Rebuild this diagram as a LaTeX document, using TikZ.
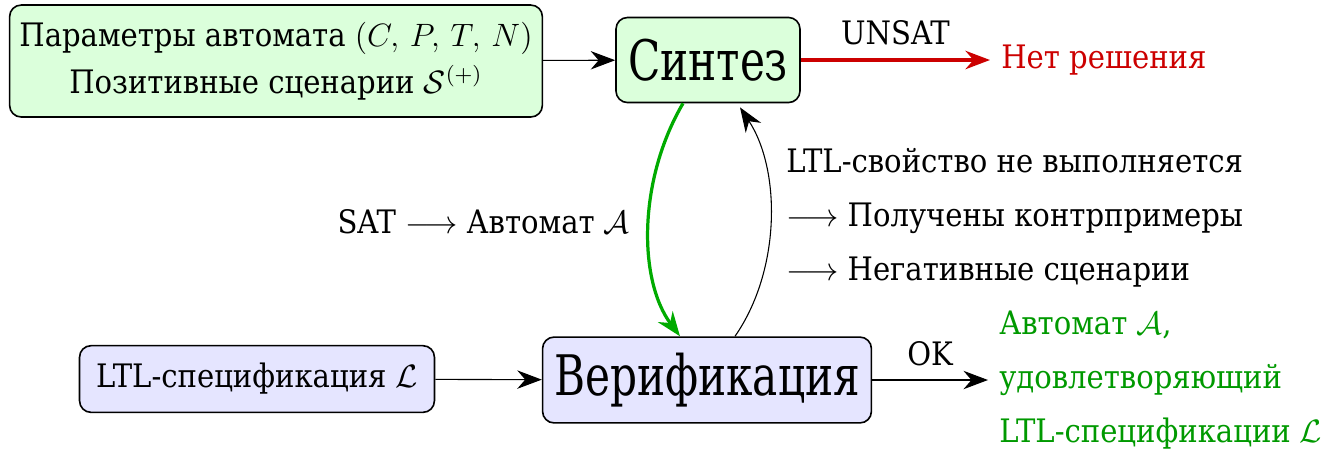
\documentclass[tikz,border=0pt,12pt]{standalone}
\usepackage{fontspec}
\setmainfont{DejaVu Serif Condensed}
\newfontfamily\stagefont[FakeStretch=0.84]{DejaVu Serif Condensed}
\usepackage{amsmath}
\usepackage{tikz}
\usetikzlibrary{arrows.meta,calc,positioning}

\tikzset{
  stagebox/.style={draw, semithick, rounded corners=0.15cm, inner sep=0pt, align=center},
  synthfill/.style={fill=green!14},
  verifill/.style={fill=blue!10},
  flow/.style={-{Stealth[length=3.2mm,width=2.4mm]}, thin},
}

\begin{document}
\begin{tikzpicture}[x=0.013047cm, y=-0.013047cm]
 \useasboundingbox (0,0) rectangle (1336,452);

    % input boxes
    \node (params) [stagebox, synthfill, minimum width=6.95cm, minimum height=1.46cm] at (276,61)
      {Параметры автомата $(C,\,P,\,T,\,N)$\\[3pt] Позитивные сценарии $\mathcal{S}^{(+)}$};
    \node (spec) [stagebox, verifill, minimum width=4.63cm, minimum height=0.87cm] at (257,379)
      {LTL-спецификация $\mathcal{L}$};

    % main stages
    \node (synth) [stagebox, synthfill, minimum width=2.40cm, minimum height=1.11cm] at (708,60) {\LARGE\stagefont Синтез};
    \node (verif) [stagebox, verifill, minimum width=4.29cm, minimum height=1.12cm] at (707,380) {\LARGE\stagefont Верификация};

    % results
    \node (nosol) [anchor=west, text=red!80!black] at (990,60) {Нет решения};
    \node (done) [anchor=west, align=left, text=green!60!black] at (988,380)
      {Автомат $\mathcal{A}$,\\[5.5pt] удовлетворяющий\\[5.5pt] LTL-спецификации $\mathcal{L}$};

    % straight arrows
    \draw[flow] (params) -- (synth);
    \draw[flow] (spec) -- (verif);
    \draw[flow, red!80!black, line width=1.2pt] (synth) -- (nosol) node[midway, above, black, yshift=1pt] {UNSAT};
    \draw[flow] (verif) -- (done.west |- verif) node[midway, above, yshift=1pt] {OK};

    % loop
    \coordinate (sat_from) at ($(synth.south)+(-25,0)$);
    \coordinate (sat_to) at ($(verif.north)+(-27,0)$);
    \coordinate (cex_from) at ($(verif.north)+(28,0)$);
    \coordinate (cex_to) at ($(synth.south)+(32,4)$);
    \draw[flow, green!67!black, line width=1.2pt] (sat_from) .. controls (638,180) and (638,280) .. (sat_to);
    \draw[flow] (cex_from) .. controls (781,270) and (781,170) .. (cex_to);

    \node (sat_label) [anchor=east] at (641,222) {SAT $\longrightarrow$ Автомат $\mathcal{A}$};
    \node (cex_label) [anchor=west, align=left] at (775,218)
      {LTL-свойство не выполняется\\[5.5pt] $\longrightarrow$ Получены контрпримеры\\[5.5pt] $\longrightarrow$ Негативные сценарии};
\end{tikzpicture}
\end{document}
